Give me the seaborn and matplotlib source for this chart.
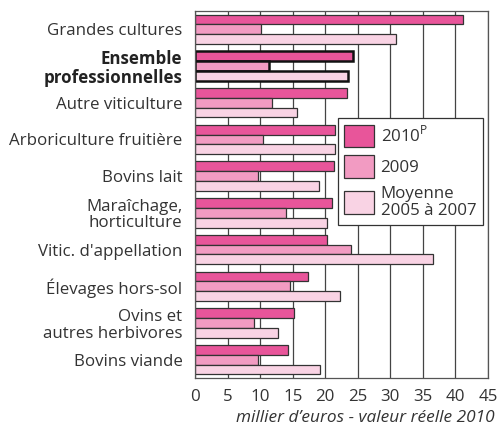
import matplotlib
matplotlib.use("Agg")
import matplotlib.pyplot as plt
import seaborn as sns
import pandas as pd
from matplotlib.patches import Patch

categories = ["Grandes cultures", "Ensemble\nprofessionnelles", "Autre viticulture",
              "Arboriculture fruitière", "Bovins lait", "Maraîchage,\nhorticulture",
              "Vitic. d'appellation", "Élevages hors-sol", "Ovins et\nautres herbivores",
              "Bovins viande"]
series_names = ["2010P", "2009", "Moyenne\n2005 à 2007"]
legend_labels = ["2010$^\\mathregular{P}$", "2009", "Moyenne\n2005 à 2007"]
v2010 = [41.1, 24.3, 23.3, 21.5, 21.3, 21.0, 20.2, 17.4, 15.2, 14.3]
v2009 = [10.2, 11.4, 11.8, 10.5, 9.7, 14.0, 24.0, 14.6, 9.0, 9.6]
vmoy = [30.8, 23.5, 15.6, 21.5, 19.1, 20.3, 36.6, 22.3, 12.8, 19.2]
xticks = [0, 5, 10, 15, 20, 25, 30, 35, 40, 45]
xlabel = "millier d\u2019euros - valeur réelle 2010"

colors = ["#e8559a", "#f29bc2", "#f9d3e4"]
txt = "#333333"
FS = 12.2

rows = []
for s, vals in zip(series_names, [v2010, v2009, vmoy]):
    for c, v in zip(categories, vals):
        rows.append({"cat": c, "series": s, "val": v})
df = pd.DataFrame(rows)

sns.set_style("white")
plt.rcParams["font.family"] = ["Open Sans", "DejaVu Sans"]
plt.rcParams["text.color"] = txt

fig = plt.figure(figsize=(4.97, 4.25), dpi=100)
ax = fig.add_axes([195 / 497, 1 - 378 / 425, 293 / 497, 367 / 425])

sns.barplot(data=df, y="cat", x="val", hue="series", orient="h", order=categories,
            hue_order=series_names, palette=colors, width=0.8, saturation=1,
            edgecolor=txt, linewidth=0.9, legend=False, ax=ax, zorder=2)

# emphasize "Ensemble" group
for p in ax.patches:
    cy = p.get_y() + p.get_height() / 2
    if 0.5 < cy < 1.5:
        p.set_linewidth(1.8)
        p.set_edgecolor("#111111")

ax.set_xlim(0, 45)
ax.set_ylim(9.5, -0.5)
ax.set_xticks(xticks)
ax.set_xticklabels([str(t) for t in xticks], fontsize=FS, color=txt)
ax.tick_params(axis="x", length=0, pad=8)
ax.tick_params(axis="y", length=0, pad=9)
for lab in ax.get_yticklabels():
    lab.set_fontsize(FS)
    lab.set_color(txt)
    lab.set_linespacing(1.05)
    if lab.get_text().startswith("Ensemble"):
        lab.set_fontweight("bold")
        lab.set_color("#222222")
ax.set_xlabel("")
ax.set_ylabel("")
ax.grid(axis="x", color="#444444", linewidth=0.9, zorder=0)
ax.set_axisbelow(True)
for sp in ax.spines.values():
    sp.set_visible(True)
    sp.set_color("#555555")
    sp.set_linewidth(0.9)

handles = [Patch(facecolor=c, edgecolor=txt, linewidth=0.9) for c in colors]
leg = ax.legend(handles, legend_labels, loc="upper left", bbox_to_anchor=(0.488, 0.708),
                borderaxespad=0, frameon=True, fancybox=False, fontsize=FS,
                handlelength=1.75, handleheight=1.7, handletextpad=0.38,
                labelspacing=0.45, borderpad=0.38)
leg.get_frame().set_edgecolor("#333333")
leg.get_frame().set_linewidth(0.9)
leg.get_frame().set_alpha(1)
for t in leg.get_texts():
    t.set_linespacing(1.12)

fig.text(495 / 497, 1 - 418 / 425, xlabel, ha="right", va="center", fontsize=12.4,
         style="italic", color=txt)

fig.savefig("out.png", dpi=100)
